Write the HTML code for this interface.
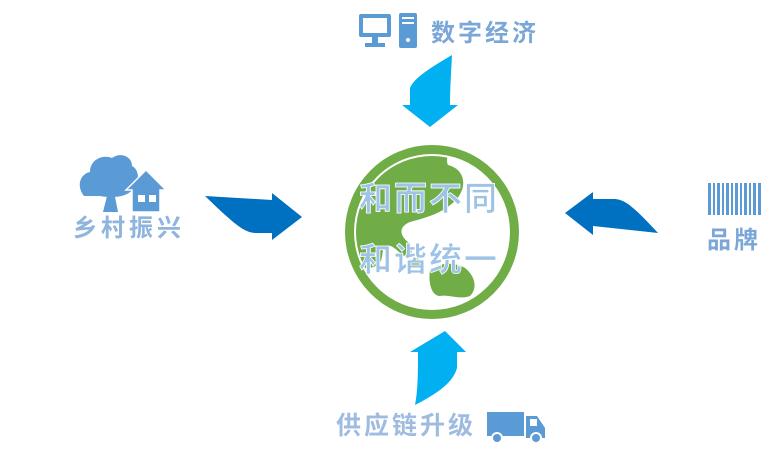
<!DOCTYPE html>
<html><head><meta charset="utf-8"><style>
html,body{margin:0;padding:0;background:#fff;width:780px;height:459px;overflow:hidden}
svg{display:block}
text{font-family:"Liberation Sans","Noto Sans CJK SC",sans-serif}
</style></head><body>
<svg width="780" height="459" viewBox="0 0 780 459">
<!-- globe -->
<circle cx="432" cy="232" r="87" fill="#70ad47"/>
<circle cx="432" cy="232" r="78" fill="#fff"/>
<clipPath id="c"><circle cx="432" cy="232" r="76"/></clipPath>
<g clip-path="url(#c)" fill="#70ad47">
<path d="M340 140 L448 140 C450 150 445 160 448 165 C460 168 466 178 462 190 C458 200 452 204 446 208 C438 214 425 218 410 222 C400 226 398 234 408 242 C414 250 412 258 404 256 C396 250 392 244 386 246 C380 250 385 262 376 266 C368 270 355 268 340 268 Z"/>
<path d="M430 270 C440 262 455 262 465 268 C475 276 478 288 470 296 C460 300 448 294 440 296 C432 296 428 284 430 270 Z"/>
<path d="M410 262 L418 258 L420 266 L412 268 Z"/>
</g>
<text x="429" y="210" text-anchor="middle" font-size="33" font-weight="bold" letter-spacing="2" fill="#9dc3e6" stroke="#fff" stroke-width="0.8">和而不同</text>
<text x="429" y="271" text-anchor="middle" font-size="33" font-weight="bold" letter-spacing="2" fill="#9dc3e6" stroke="#fff" stroke-width="0.8">和谐统一</text>
<!-- top arrow -->
<path d="M452 55 C451 75 450 90 450 105 L458 105 L430 127 L402 105 L410 105 L410 88 C414 78 430 68 452 55 Z" fill="#00b0f0"/>
<!-- bottom arrow -->
<path d="M415 405 C418 390 418 370 418 352 L410 352 L445 331 L466 352 L457 352 L457 368 C453 382 440 392 415 405 Z" fill="#00b0f0"/>
<!-- left arrow -->
<path d="M205 196 L272 200 L272 193 L302 217 L272 240 L272 233 L255 233 C245 232 238 228 205 196 Z" fill="#0070c0"/>
<!-- right arrow -->
<path d="M658 233 L593 226 L593 235 L565 213 L593 192 L593 199 L615 199 C625 200 632 205 658 233 Z" fill="#0070c0"/>
<!-- monitor icon -->
<rect x="359" y="14" width="32" height="23" rx="2" fill="#5b9bd5"/>
<rect x="363" y="18" width="24" height="15" fill="#fff"/>
<rect x="372" y="37" width="6" height="6" fill="#5b9bd5"/>
<rect x="365" y="43" width="20" height="4" fill="#5b9bd5"/>
<rect x="399" y="13" width="18" height="35" rx="2" fill="#5b9bd5"/>
<rect x="402" y="17" width="12" height="2" fill="#fff"/>
<rect x="402" y="22" width="12" height="2" fill="#fff"/>
<circle cx="408" cy="40" r="2" fill="#fff"/>
<text x="431" y="41" font-size="24" font-weight="bold" letter-spacing="3" fill="#7aa6d8">数字经济</text>
<!-- tree house -->
<path d="M84 196 C76 186 80 174 90 172 C90 160 102 154 112 158 C120 152 132 156 132 166 C140 170 140 184 132 190 C126 198 110 198 100 196 Z" fill="#5b9bd5"/>
<path d="M103 212 L108 192 L114 192 L118 212 Z" fill="#5b9bd5"/>
<path d="M126 190 L146 170 L166 190 L160 190 L160 212 L132 212 L132 190 Z" fill="#5b9bd5" stroke="#fff" stroke-width="1.5"/>
<rect x="138" y="195" width="7" height="7" fill="#fff"/>
<rect x="149" y="195" width="7" height="7" fill="#fff"/>
<text x="73" y="236" font-size="24" font-weight="bold" letter-spacing="4" fill="#8fb4de">乡村振兴</text>
<!-- barcode -->
<g fill="#5b9bd5">
<rect x="708" y="183" width="3" height="32"/><rect x="713" y="183" width="2" height="32"/>
<rect x="717" y="183" width="3" height="32"/><rect x="722" y="183" width="2" height="32"/>
<rect x="726" y="183" width="3" height="32"/><rect x="731" y="183" width="2" height="32"/>
<rect x="735" y="183" width="3" height="32"/><rect x="740" y="183" width="2" height="32"/>
<rect x="744" y="183" width="3" height="32"/><rect x="749" y="183" width="2" height="32"/>
<rect x="753" y="183" width="3" height="32"/><rect x="758" y="183" width="3" height="32"/>
</g>
<text x="707" y="248" font-size="24" font-weight="bold" letter-spacing="3" fill="#7aa6d8">品牌</text>
<!-- truck -->
<rect x="487" y="412" width="37" height="24" fill="#5b9bd5"/>
<path d="M526 416 L537 416 L545 428 L545 438 L526 438 Z" fill="#5b9bd5"/>
<rect x="530" y="419" width="7" height="7" fill="#fff"/>
<circle cx="497" cy="438" r="5" fill="#5b9bd5" stroke="#fff" stroke-width="2"/>
<circle cx="536" cy="438" r="5" fill="#5b9bd5" stroke="#fff" stroke-width="2"/>
<text x="336" y="434" font-size="25" font-weight="bold" letter-spacing="3" fill="#9fbce0">供应链升级</text>
</svg>
</body></html>
